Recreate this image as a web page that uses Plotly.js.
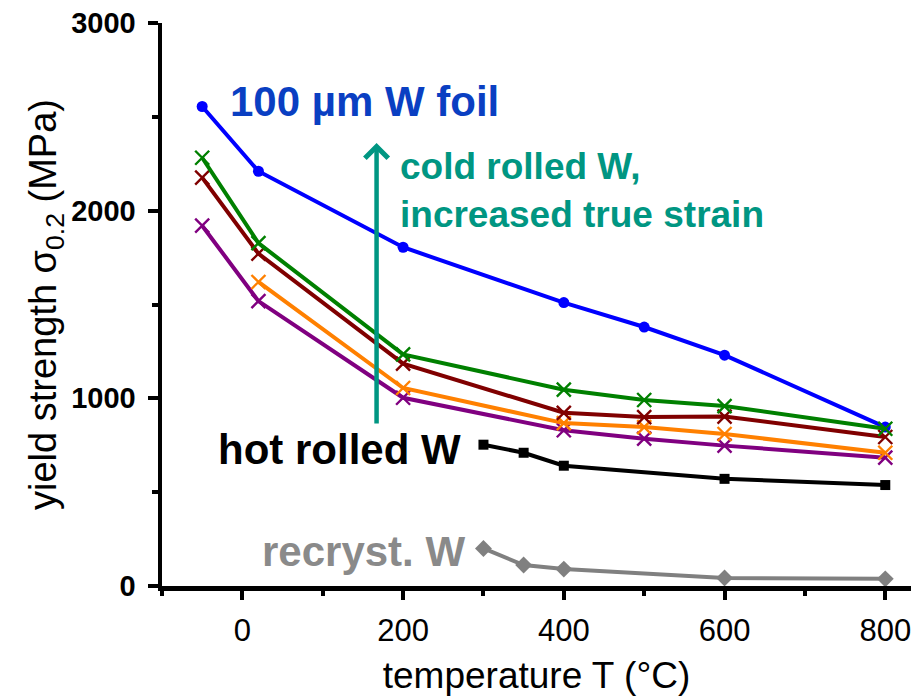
<!DOCTYPE html>
<html>
<head>
<meta charset="utf-8">
<script src="https://cdn.plot.ly/plotly-3.0.1.min.js"></script>
<style>html,body{margin:0;padding:0;background:#fff;}#chart{width:911px;height:699px;}</style>
</head>
<body>
<div id="chart"></div>
<script>
// temperatures (°C)
const T_full = [-50, 20, 200, 400, 500, 600, 800];
const T_orange = [20, 200, 400, 500, 600, 800];
const T_hot = [300, 350, 400, 600, 800];
const T_rec = [300, 350, 400, 600, 800];

// yield strength sigma_0.2 (MPa)
const foil100um = [2555, 2210, 1805, 1510, 1380, 1230, 847];
const coldGreen = [2282, 1827, 1234, 1046, 991, 959, 838];
const coldDarkRed = [2176, 1771, 1185, 923, 900, 903, 794];
const coldOrange = [1620, 1055, 868, 847, 810, 710];
const coldPurple = [1920, 1518, 1003, 830, 785, 748, 684];
const hotRolled = [753, 710, 641, 571, 538];
const recryst = [200, 112, 90, 43, 38];

const xTickVals = [0, 200, 400, 600, 800];
const yTickVals = [0, 1000, 2000, 3000];

const FONT = 'Liberation Sans, Arial, Helvetica, sans-serif';

function crossTrace(x, y, color) {
  return {x: x, y: y, type: 'scatter', mode: 'lines+markers',
    line: {color: color, width: 4},
    marker: {symbol: 'x-thin-open', size: 14, color: color, line: {color: color, width: 2.4}},
    hoverinfo: 'x+y'};
}

const traces = [
  {x: T_full, y: foil100um, type: 'scatter', mode: 'lines+markers',
   line: {color: '#0000ff', width: 4},
   marker: {symbol: 'circle', size: 11, color: '#0000ff'}},
  crossTrace(T_full, coldPurple, '#800080'),
  crossTrace(T_orange, coldOrange, '#ff8000'),
  crossTrace(T_full, coldDarkRed, '#800000'),
  crossTrace(T_full, coldGreen, '#008000'),
  {x: T_hot, y: hotRolled, type: 'scatter', mode: 'lines+markers',
   line: {color: '#000000', width: 4},
   marker: {symbol: 'square', size: 10, color: '#000000'}},
  {x: T_rec, y: recryst, type: 'scatter', mode: 'lines+markers',
   line: {color: '#808080', width: 4},
   marker: {symbol: 'diamond', size: 13, color: '#808080'}}
];

const layout = {
  width: 911, height: 699,
  margin: {l: 162, r: 0, t: 23, b: 113, pad: 0},
  paper_bgcolor: '#ffffff', plot_bgcolor: '#ffffff',
  showlegend: false,
  font: {family: FONT, color: '#000'},
  xaxis: {
    range: [-100, 832], showgrid: false, zeroline: false,
    showline: true, linecolor: '#000', linewidth: 4.5,
    ticks: 'outside', ticklen: 9, tickwidth: 4, tickcolor: '#000',
    tickvals: xTickVals, ticktext: xTickVals.map(String),
    tickfont: {family: FONT, size: 31, color: '#000'},
    ticklabelstandoff: 4,
    ticklabeloverflow: 'allow',
    minor: {tickvals: [-100, 100, 300, 500, 700], ticks: 'outside', ticklen: 5, tickwidth: 4, tickcolor: '#000'},
    title: {text: 'temperature T (°C)', font: {family: FONT, size: 37, color: '#000'}, standoff: 17},
    automargin: false
  },
  yaxis: {
    range: [0, 3000], showgrid: false, zeroline: false,
    showline: true, linecolor: '#000', linewidth: 4.5,
    ticks: 'outside', ticklen: 10, tickwidth: 4, tickcolor: '#000',
    tickvals: yTickVals, ticktext: yTickVals.map(String),
    tickfont: {family: FONT, size: 29, color: '#000', weight: 'bold'},
    ticklabelstandoff: 6,
    ticklabeloverflow: 'allow',
    minor: {tickvals: [500, 1500, 2500], ticks: 'outside', ticklen: 6, tickwidth: 4, tickcolor: '#000'},
    title: {text: 'yield strength σ<sub>0.2</sub> (MPa)', font: {family: FONT, size: 38, color: '#000'}, standoff: 4},
    automargin: false
  },
  annotations: [
    {x: 167, y: 2361, ax: 167, ay: 858, xref: 'x', yref: 'y', axref: 'x', ayref: 'y',
     text: '', showarrow: true, arrowhead: 4, arrowsize: 1, arrowwidth: 4.5, arrowcolor: '#009682'},
    {x: -17.4, y: 2584, xref: 'x', yref: 'y', xanchor: 'left', yanchor: 'middle', showarrow: false,
     text: '<b>100 µm W foil</b>', font: {family: FONT, size: 42, color: '#0a3fc2'}},
    {x: 194, y: 2105, xref: 'x', yref: 'y', xanchor: 'left', yanchor: 'middle', align: 'left', showarrow: false,
     text: '<b>cold rolled W,<br>increased true strain</b>', font: {family: FONT, size: 37, color: '#009682'}},
    {x: 274, y: 730, xref: 'x', yref: 'y', xanchor: 'right', yanchor: 'middle', showarrow: false,
     text: '<b>hot rolled W</b>', font: {family: FONT, size: 42, color: '#000000'}},
    {x: 280, y: 186, xref: 'x', yref: 'y', xanchor: 'right', yanchor: 'middle', showarrow: false,
     text: '<b>recryst. W</b>', font: {family: FONT, size: 42, color: '#8a8a8a'}}
  ]
};

Plotly.newPlot('chart', traces, layout, {displayModeBar: false, staticPlot: true});
</script>
</body>
</html>
